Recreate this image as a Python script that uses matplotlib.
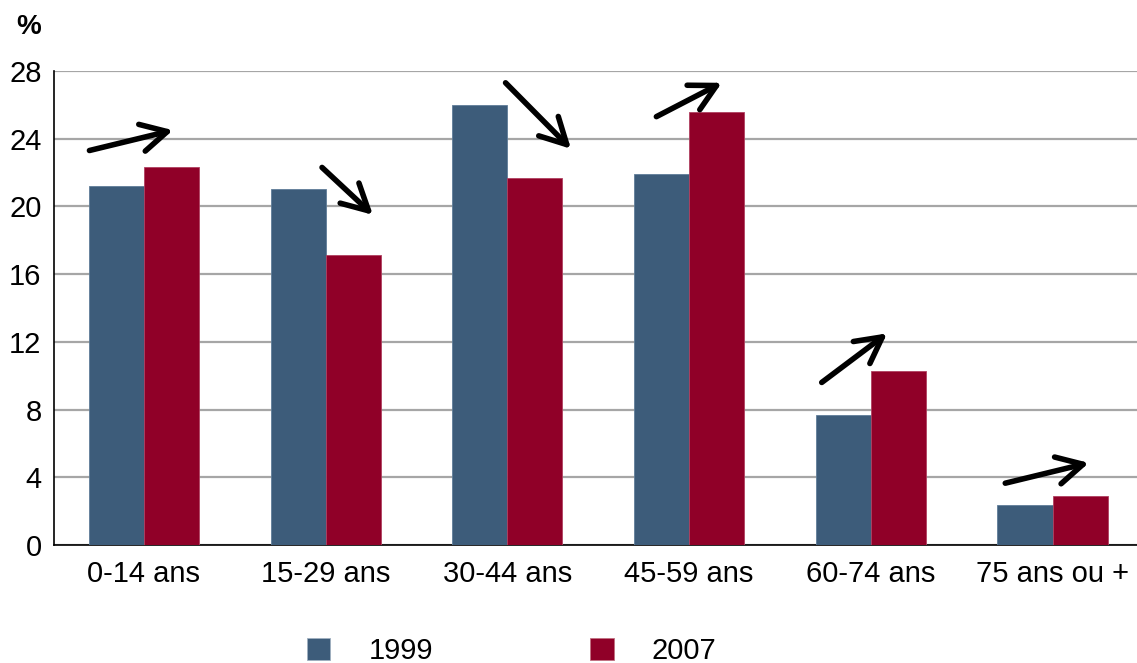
import numpy as np
import matplotlib.pyplot as plt
from matplotlib.patches import Patch

plt.rcParams['font.family'] = ['Liberation Sans', 'DejaVu Sans']

categories = ['0-14 ans', '15-29 ans', '30-44 ans', '45-59 ans', '60-74 ans', '75 ans ou +']
v1999 = [21.2, 21.0, 26.0, 21.9, 7.7, 2.35]
v2007 = [22.3, 17.1, 21.7, 25.6, 10.3, 2.9]
yticks = [0, 4, 8, 12, 16, 20, 24, 28]

# trend arrows (start, end) in data units
arrows = [
    ((-0.30, 23.3), (0.16, 24.5)),
    ((0.98, 22.3), (1.26, 19.5)),
    ((1.99, 27.3), (2.35, 23.4)),
    ((2.82, 25.3), (3.18, 27.3)),
    ((3.73, 9.6), (4.09, 12.5)),
    ((4.74, 3.65), (5.20, 4.85)),
]

c99 = '#3d5c7a'
c07 = '#900028'

fig = plt.figure(figsize=(11.37, 6.63), dpi=100)
ax = fig.add_axes([0.0475, 0.178, 0.9525, 0.715])

x = np.arange(len(categories))
w = 0.303
ax.bar(x - w / 2, v1999, w, color=c99, edgecolor='#5f7d99', linewidth=0.6, zorder=3)
ax.bar(x + w / 2, v2007, w, color=c07, edgecolor='#b04060', linewidth=0.6, zorder=3)

for (x0, y0), (x1, y1) in arrows:
    ax.annotate('', xy=(x1, y1), xytext=(x0, y0),
                arrowprops=dict(arrowstyle='->,head_length=0.85,head_width=0.45',
                                mutation_scale=22, color='black', lw=4,
                                shrinkA=0, shrinkB=0),
                zorder=5)

ax.set_xlim(-0.495, 5.465)
ax.set_ylim(0, 28)
ax.set_yticks(yticks)
ax.yaxis.grid(True, color='#a6a6a6', linewidth=1.6, zorder=0)
ax.set_axisbelow(True)
ax.set_xticks(x)
ax.set_xticklabels(categories)
ax.tick_params(axis='x', length=0, labelsize=21, pad=11)
ax.tick_params(axis='y', length=0, labelsize=21, pad=9)
for s in ['top', 'right']:
    ax.spines[s].set_visible(False)
ax.spines['left'].set_color('black')
ax.spines['bottom'].set_color('black')
ax.spines['left'].set_linewidth(1.2)
ax.spines['bottom'].set_linewidth(1.2)

fig.text(0.025, 0.96, '%', fontsize=20, fontweight='bold', ha='center', va='center')

handles = [Patch(facecolor=c99, edgecolor='#a0b0c0', linewidth=0.6),
           Patch(facecolor=c07, edgecolor='#c07080', linewidth=0.6)]
fig.legend(handles, ['1999', '2007'], loc='center', bbox_to_anchor=(0.45, 0.018),
           ncol=2, frameon=False, fontsize=21, handlelength=0.8, handleheight=0.8,
           handletextpad=1.3, columnspacing=5.4, borderpad=0)

fig.savefig('out.png', dpi=100)
